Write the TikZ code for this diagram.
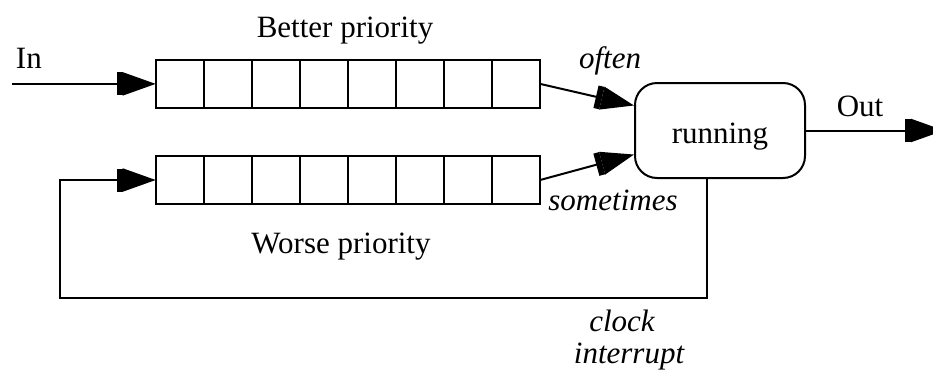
\documentclass[tikz,border=0pt]{standalone}
\usepackage{fontspec}
\setmainfont{Liberation Serif}
\usetikzlibrary{arrows.meta}
\begin{document}
\begin{tikzpicture}[x=1pt, y=-1pt, line width=2pt, line join=miter,
  cell/.style={draw, minimum width=48.05pt, minimum height=47.7pt, inner sep=0pt, outer sep=0pt},
  lbl/.style={font=\fontsize{31}{36}\selectfont, anchor=base, inner sep=0pt},
  ilbl/.style={lbl, font=\fontsize{31}{36}\selectfont\itshape},
  head/.style={-{Rectangle[length=6pt,width=23pt,sep=0pt]Triangle[length=33pt,width=23pt]}}]
  \useasboundingbox (0,0) rectangle (933,370);

  % the two queues of eight slots each
  \foreach \i in {1,...,8} {
    \node[cell] (t\i) at ({155.7+48.05*(\i-0.5)}, 83.9) {};
    \node[cell] (b\i) at ({155.7+48.05*(\i-0.5)}, 180) {};
  }

  % the running state
  \node[draw, rounded corners=22pt, minimum width=170pt, minimum height=95pt,
        inner sep=0pt, text height=25pt, text depth=0pt,
        font=\fontsize{31}{36}\selectfont] (run) at (720,130.5) {running};

  % free ends
  \coordinate (inS) at (12,83.9);
  \coordinate (outE) at (944,130.5);
  \coordinate (fbl) at (60,298);

  % connectors
  \draw[head] (inS) -- (t1.west);
  \draw[head] (t8.east) -- ([yshift=25pt]run.west);
  \draw[head] (b8.east) -- ([yshift=-24pt]run.west);
  \draw[head] (run.east) -- (outE);
  \draw[head] ([xshift=-13pt]run.south) |- (fbl) |- (b1.west);

  % labels
  \node[lbl, anchor=base west] (lin) at (15,68) {In};
  \node[lbl] (lbetter) at (345,37) {Better priority};
  \node[ilbl] (loften) at (610,68) {often};
  \node[lbl] (lout) at (860,116) {Out};
  \node[ilbl] (lsome) at (613,210) {sometimes};
  \node[lbl] (lworse) at (341,253) {Worse priority};
  \node[ilbl] (lclock) at (622,331) {clock};
  \node[ilbl] (lint) at (629,363) {interrupt};
\end{tikzpicture}
\end{document}
